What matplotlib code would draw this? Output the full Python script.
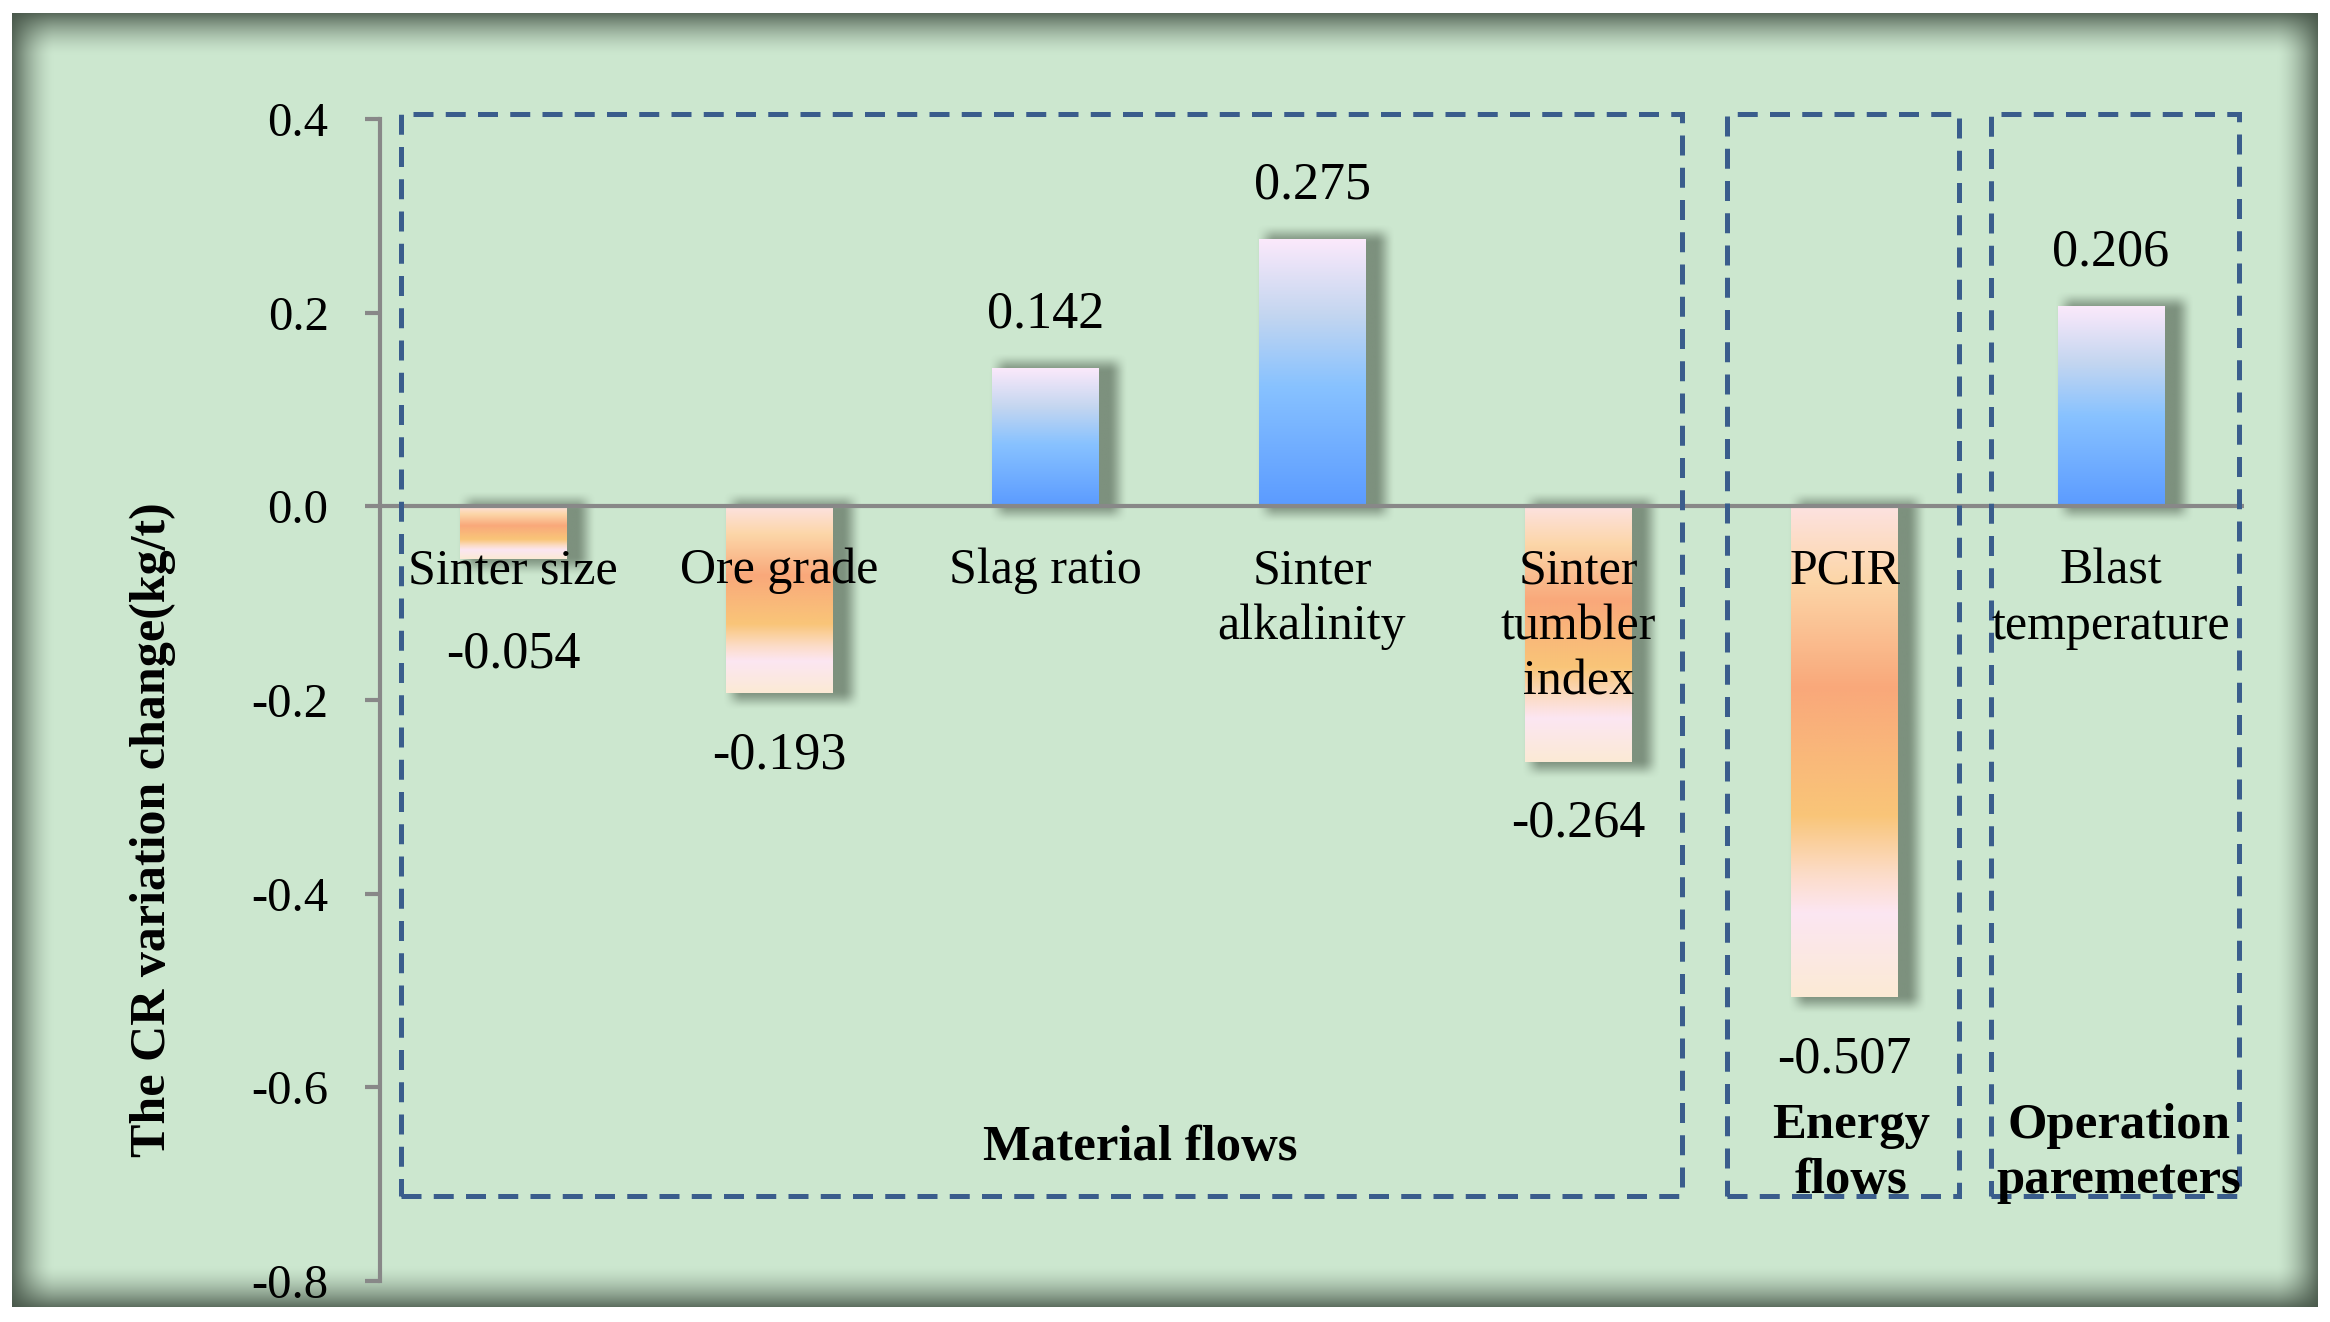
import numpy as np
import matplotlib.pyplot as plt
from matplotlib.colors import LinearSegmentedColormap, to_rgb
from matplotlib.patches import Rectangle

plt.rcParams['font.family'] = ['Liberation Serif', 'DejaVu Serif']
plt.rcParams['axes.unicode_minus'] = False

categories = ['Sinter size', 'Ore grade', 'Slag ratio', 'Sinter\nalkalinity',
              'Sinter\ntumbler\nindex', 'PCIR', 'Blast\ntemperature']
values = [-0.054, -0.193, 0.142, 0.275, -0.264, -0.507, 0.206]
groups = ['Material flows', 'Energy\nflows', 'Operation\nparemeters']
yticks = [-0.8, -0.6, -0.4, -0.2, 0.0, 0.2, 0.4]

W, H = 2330, 1322
fig = plt.figure(figsize=(W / 100, H / 100), dpi=100)

# background frame with dark bevelled edge
bg = np.array(to_rgb('#cce7cf'))
dark = np.array([70, 85, 72]) / 255
img = np.ones((H, W, 3))
fx0, fy0, fx1, fy1 = 12, 13, 2318, 1307
yy, xx = np.mgrid[fy0:fy1, fx0:fx1]
keep = np.ones(xx.shape)
for d in [xx - fx0, fx1 - xx, yy - fy0, fy1 - yy]:
    f = np.clip(1 - d / 42.0, 0, 1) ** 1.6 * 0.85
    keep *= (1 - f)
img[fy0:fy1, fx0:fx1] = bg * keep[..., None] + dark * (1 - keep[..., None])
bg_ax = fig.add_axes([0, 0, 1, 1], zorder=0)
bg_ax.imshow(img, aspect='auto', interpolation='nearest')
bg_ax.axis('off')

# main axes
ax_l, ax_r, ax_t, ax_b = 380, 2244, 119, 1281
ax = fig.add_axes([ax_l / W, 1 - ax_b / H, (ax_r - ax_l) / W, (ax_b - ax_t) / H], zorder=1)
ax.patch.set_alpha(0)
xmin, xmax, ymin, ymax = -0.5, len(values) - 0.5, -0.8, 0.4
sx = (xmax - xmin) / (ax_r - ax_l)   # data per pixel
sy = (ymax - ymin) / (ax_b - ax_t)

pos_cmap = LinearSegmentedColormap.from_list('pos', [
    (0.0, '#5b9bff'), (0.45, '#88c2ff'), (0.72, '#c4d6f0'), (1.0, '#fbe9fb')])
neg_cmap = LinearSegmentedColormap.from_list('neg', [
    (0.0, '#fde2e0'), (0.15, '#fcd6a8'), (0.37, '#f9a87a'), (0.5, '#f9b77a'),
    (0.63, '#f9c578'), (0.75, '#fcdcc8'), (0.83, '#fce6f2'), (1.0, '#fbead5')])

grad = np.linspace(0, 1, 256).reshape(-1, 1)
bw = 0.40
blur = 10
shadow_rgb = np.array([60, 75, 60]) / 255


def smooth(t):
    t = np.clip(t, 0, 1)
    return t * t * (3 - 2 * t)


for i, v in enumerate(values):
    x0, x1 = i - bw / 2, i + bw / 2
    y0, y1 = min(0, v), max(0, v)
    # soft drop shadow
    X0, X1 = x0 + 6 * sx - blur * sx, x1 + 20 * sx + blur * sx
    Y0, Y1 = y0 - 8 * sy - blur * sy, y1 + 6 * sy + blur * sy
    nx = max(int((X1 - X0) / sx), 4)
    ny = max(int((Y1 - Y0) / sy), 4)
    px = np.arange(nx)
    py = np.arange(ny)
    ax_ = smooth(px / (2 * blur)) * smooth((nx - 1 - px) / (2 * blur))
    ay_ = smooth(py / (2 * blur)) * smooth((ny - 1 - py) / (2 * blur))
    sh = np.zeros((ny, nx, 4))
    sh[..., :3] = shadow_rgb
    sh[..., 3] = 0.55 * ay_[:, None] * ax_[None, :]
    ax.imshow(sh, extent=(X0, X1, Y0, Y1), origin='lower', aspect='auto',
              zorder=2, interpolation='bilinear')
    # gradient bar
    if v >= 0:
        arr = pos_cmap(grad)
    else:
        arr = neg_cmap(grad[::-1])
    ax.imshow(arr, extent=(x0, x1, y0, y1), origin='lower', aspect='auto',
              zorder=3, interpolation='bilinear')
    # value label
    if v >= 0:
        ly = v + 0.056
    else:
        ly = min(v - 0.064, -0.153)
    ax.text(i, ly, f'{v:.3f}', ha='center', va='center', fontsize=37.5, zorder=6)
    # category label
    ax.text(i, -0.043, categories[i], ha='center', va='top', fontsize=36,
            linespacing=1.26, zorder=6)

ax.axhline(0, color='#888888', lw=3, zorder=4)

# dashed group boxes
box_spans = [(-0.42, 4.39), (4.56, 5.43), (5.55, 6.48)]
box_top, box_bot = 0.405, -0.712
for (l, r) in box_spans:
    ax.add_patch(Rectangle((l, box_bot), r - l, box_top - box_bot, fill=False,
                           edgecolor='#3a5d8c', lw=3.6, linestyle=(0, (4.0, 2.45)),
                           zorder=5, clip_on=False))

group_x = [2.355, 5.025, 6.03]
group_y = [-0.663, -0.668, -0.668]
for g, gx, gy in zip(groups, group_x, group_y):
    ax.text(gx, gy, g, ha='center', va='center', fontsize=36.5, fontweight='bold',
            linespacing=1.25, zorder=6)

ax.set_xlim(xmin, xmax)
ax.set_ylim(ymin, ymax)
ax.set_xticks([])
ax.set_yticks(yticks)
ax.set_yticklabels([f'{t:.1f}' for t in yticks], fontsize=35)
ax.tick_params(axis='y', direction='out', length=11, width=3, color='#888888', pad=26)
for s in ['top', 'right', 'bottom']:
    ax.spines[s].set_visible(False)
ax.spines['left'].set_color('#888888')
ax.spines['left'].set_linewidth(3)

fig.text(153 / W, 1 - 830 / H, 'The CR variation change(kg/t)', rotation=90,
         ha='center', va='center', fontsize=36, fontweight='bold', zorder=6)

fig.savefig('out.png', dpi=100)
